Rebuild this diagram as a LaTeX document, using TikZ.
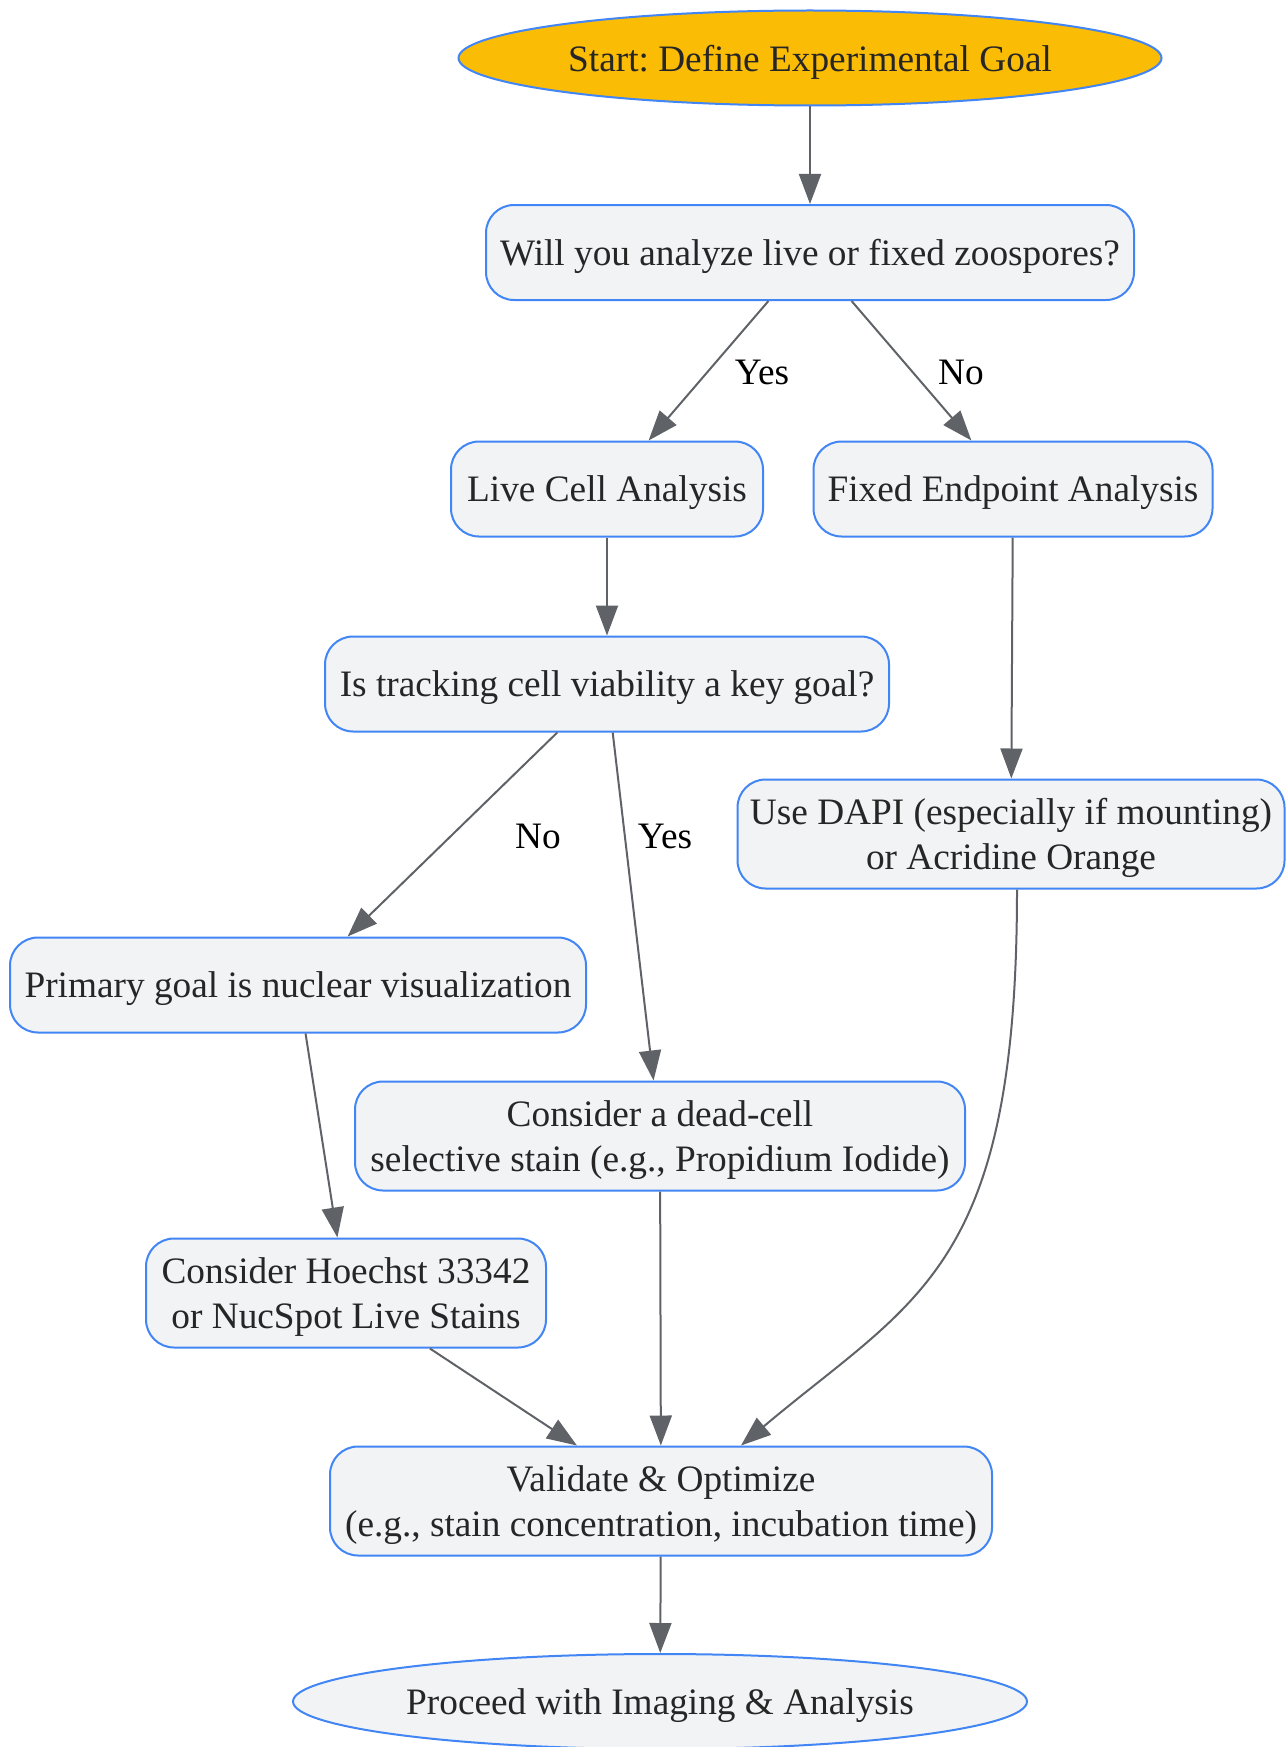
\documentclass[tikz,border=0pt]{standalone}
\usepackage{fontspec}
\setmainfont{Liberation Serif}
\usepackage{xcolor}
\usetikzlibrary{arrows.meta,shapes.geometric}

\definecolor{bleu}{HTML}{4285F4}
\definecolor{jaune}{HTML}{FBBC05}
\definecolor{grisclair}{HTML}{F1F3F4}
\definecolor{grisfleche}{HTML}{5F6368}
\definecolor{texte}{HTML}{262626}

\tikzset{
  police/.style={font=\fontsize{37.3}{44.6}\selectfont\frenchspacing},
  boite/.style={police, draw=bleu, fill=grisclair, line width=2pt, rounded corners=28pt,
    minimum height=95pt, align=center, text=texte, inner sep=0pt, text depth=0pt},
  bulle/.style={police, ellipse, draw=bleu, line width=2pt, minimum height=95pt,
    text=texte, inner sep=0pt, text depth=0pt},
  fleche/.style={line width=2pt, draw=grisfleche,
    -{Triangle[length=30pt,width=22pt]}},
  etiq/.style={police, text=black, inner sep=0pt}
}

\begin{document}
\begin{tikzpicture}[x=1pt, y=1pt]
  % Fixez le cadre
  \useasboundingbox (0,0) rectangle (1286,-1747);

  % Placez les noeuds
  \node[bulle, fill=jaune, minimum width=703pt] (start) at (810,-58) {Start: Define Experimental Goal};
  \node[boite, minimum width=648pt] (will) at (810,-252.5) {Will you analyze live or fixed zoospores?};
  \node[boite, minimum width=312pt] (live) at (607,-489) {Live Cell Analysis};
  \node[boite, minimum width=399pt] (fixed) at (1013,-489) {Fixed Endpoint Analysis};
  \node[boite, minimum width=564pt] (track) at (607,-684) {Is tracking cell viability a key goal?};
  \node[boite, minimum width=547pt, minimum height=109pt] (dapi) at (1011,-834) {Use DAPI (especially if mounting)\\or Acridine Orange};
  \node[boite, minimum width=576pt] (nucl) at (298,-985) {Primary goal is nuclear visualization};
  \node[boite, minimum width=610pt, minimum height=109pt] (dead) at (660,-1136) {Consider a dead-cell\\selective stain (e.g., Propidium Iodide)};
  \node[boite, minimum width=400pt, minimum height=109pt] (hoechst) at (346,-1293) {Consider Hoechst 33342\\or NucSpot Live Stains};
  \node[boite, minimum width=662pt, minimum height=109pt] (valid) at (661,-1501) {Validate \& Optimize\\(e.g., stain concentration, incubation time)};
  \node[bulle, fill=grisclair, minimum width=734pt] (proceed) at (660,-1701.5) {Proceed with Imaging \& Analysis};

  % Dessinez les fleches
  \foreach \a/\b in {start/will, will/live, will/fixed, live/track, fixed/dapi,
                     track/nucl, track/dead, nucl/hoechst, dead/valid, hoechst/valid, valid/proceed} {
    \draw[fleche] (\a) -- (\b);
  }
  \draw[fleche] ([xshift=6pt]dapi.south) .. controls +(0,-380) and +(176,148) .. ([xshift=80pt]valid.north);

  % Ajoutez les etiquettes
  \node[etiq] (oui1) at (762,-372) {Yes};
  \node[etiq] (non1) at (961,-372) {No};
  \node[etiq] (non2) at (538,-836) {No};
  \node[etiq] (oui2) at (665,-836) {Yes};
\end{tikzpicture}
\end{document}
